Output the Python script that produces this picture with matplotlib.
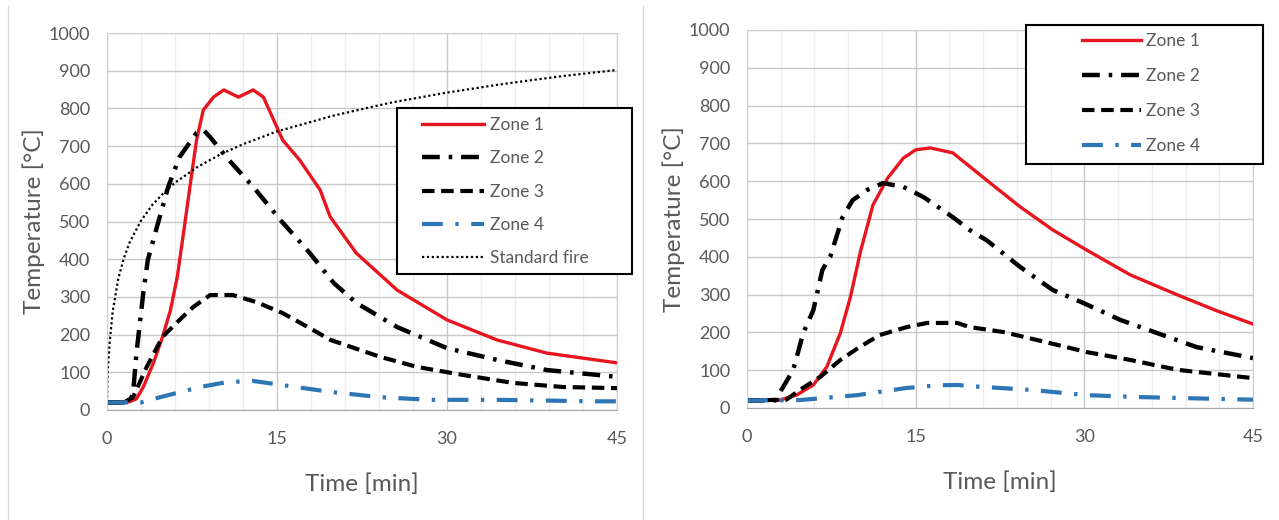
import matplotlib.pyplot as plt
from matplotlib.lines import Line2D
from matplotlib.patches import Rectangle
import numpy as np

plt.rcParams['font.family'] = ['Lato', 'DejaVu Sans']

# ---- left chart data (time in min, temperature in degC)
tL_z1 = [0, 1, 2, 2.6, 3.2, 4.1, 4.9, 5.6, 6.2, 6.8, 7.4, 7.9, 8.5, 9.4, 10.3, 11.6, 12.9, 13.8,
         15.5, 17.0, 18.8, 19.7, 22.0, 25.6, 30.0, 34.4, 38.8, 45.0]
zL_z1 = [20, 20, 22, 30, 61, 125, 194, 265, 353, 480, 610, 716, 796, 830, 849, 830, 849, 830,
         716, 663, 584, 512, 416, 318, 239, 186, 151, 125]

tL_z2 = [0, 2, 2.3, 2.6, 3.2, 3.6, 4.4, 5.4, 6.4, 7.9, 8.5, 9.1, 10.6, 12.9, 15.3, 17.9, 20.0,
         22.0, 25.6, 30.0, 34.4, 38.8, 45.0]
zL_z2 = [20, 20, 45, 151, 310, 398, 485, 592, 671, 735, 743, 724, 668, 592, 504, 416, 337,
         284, 220, 164, 133, 106, 88]

tL_z3 = [0, 1.5, 2.3, 3.5, 4.9, 6.4, 7.6, 9.1, 11.1, 13.2, 15.5, 18.2, 19.7, 24.1, 27.4, 31.4,
         35.8, 40.2, 45.0]
zL_z3 = [20, 20, 34, 114, 194, 239, 273, 305, 305, 286, 257, 212, 186, 141, 114, 93,
         72, 61, 58]

tL_z4 = [0, 3.0, 4.7, 8.2, 10.6, 12.9, 15.5, 19.7, 24.1, 28.5, 34.4, 43.2, 45.0]
zL_z4 = [20, 20, 34, 61, 74, 77, 66, 48, 34, 27, 27, 23, 23]

t_std = [0, 0.05, 0.25, 0.5, 1, 1.5, 2, 3, 4, 5, 6, 8, 10, 12, 15, 20, 25, 30, 35, 40, 45]
z_std = [20, 100, 184, 261, 349, 404, 445, 502, 544, 576, 603, 645, 678, 705, 739, 781, 815,
         842, 865, 885, 902]

# ---- right chart data
tR_z1 = [0, 2.9, 4.4, 5.9, 7.1, 8.3, 9.2, 10.1, 11.2, 12.5, 13.9, 15.0, 16.3, 18.3, 21.3, 24.3,
         27.2, 30.2, 34.1, 38.3, 41.8, 45]
zR_z1 = [20, 21, 34, 61, 109, 198, 294, 415, 537, 608, 661, 683, 688, 675, 603, 532,
         471, 418, 352, 299, 257, 222]

tR_z2 = [0, 2.5, 2.9, 4.1, 5.0, 5.9, 6.7, 7.4, 8.5, 9.4, 10.7, 12.1, 13.9, 15.7, 18.3, 19.8,
         21.3, 24.3, 27.2, 29.9, 33.2, 36.5, 40, 45]
zR_z2 = [20, 20, 40, 100, 198, 259, 365, 400, 505, 550, 577, 595, 585, 558, 505, 471,
         444, 373, 312, 278, 233, 198, 161, 132]

tR_z3 = [0, 3.5, 4.7, 6.5, 8.3, 10, 11.8, 14.2, 16, 18.7, 19.8, 22.8, 26.9, 30.2, 34.1, 38.3, 45]
zR_z3 = [20, 22, 48, 82, 127, 161, 193, 214, 225, 225, 214, 201, 172, 148, 127, 101, 79]

tR_z4 = [0, 4.7, 9.8, 14.2, 17, 18.7, 19.8, 25.2, 30.2, 34.7, 45]
zR_z4 = [20, 21, 34, 53, 60, 61, 58, 48, 34, 29, 22]

x_ticks = [0, 15, 30, 45]
y_ticks = list(range(0, 1001, 100))

red = '#e8141e'
blue = '#2e75b6'
txt = '#595959'

W, H = 1279, 520
fig = plt.figure(figsize=(W / 100, H / 100), dpi=100)


def setup(ax):
    ax.set_xlim(0, 45)
    ax.set_ylim(0, 1000)
    ax.set_xticks(x_ticks)
    ax.set_yticks(y_ticks)
    ax.set_xticks(np.arange(0, 46, 3), minor=True)
    ax.grid(True, which='major', color='#c8c8c8', lw=1)
    ax.grid(True, which='minor', axis='x', color='#ececec', lw=1)
    ax.set_axisbelow(True)
    for s in ax.spines.values():
        s.set_color('#d0d0d0')
    ax.spines['bottom'].set_color('#a6a6a6')
    ax.tick_params(which='both', length=0, labelsize=13, labelcolor=txt)
    ax.tick_params(axis='x', pad=15)
    ax.tick_params(axis='y', pad=12)
    ax.set_xlabel('Time [min]', fontsize=17.5, color=txt, labelpad=19)
    ax.set_ylabel('Temperature [°C]', fontsize=17.5, color=txt, labelpad=3)


def draw(ax, data):
    (t1, z1), (t2, z2), (t3, z3), (t4, z4) = data
    ax.plot(t1, z1, color=red, lw=2.4, label='Zone 1')
    ax.plot(t2, z2, color='black', lw=3.2, dashes=(4, 2, 0.8, 2), label='Zone 2')
    ax.plot(t3, z3, color='black', lw=3.0, dashes=(3, 1.6), label='Zone 3')
    ax.plot(t4, z4, color=blue, lw=3.0, dashes=(5, 3, 0.8, 3), label='Zone 4')


axL = fig.add_axes([107 / W, 1 - 410 / H, 510 / W, 377 / H])
setup(axL)
draw(axL, [(tL_z1, zL_z1), (tL_z2, zL_z2), (tL_z3, zL_z3), (tL_z4, zL_z4)])
axL.plot(t_std, z_std, color='black', lw=1.6, dashes=(1, 1.2), label='Standard fire')

axR = fig.add_axes([747 / W, 1 - 408 / H, 506 / W, 378 / H])
setup(axR)
draw(axR, [(tR_z1, zR_z1), (tR_z2, zR_z2), (tR_z3, zR_z3), (tR_z4, zR_z4)])


def legend(ax, box, hx, hl, top, sp):
    # box = frame in pixels (x0, y0, x1, y1); hx = handle start x; top = first row top y
    x0, y0, x1, y1 = box
    fig.add_artist(Rectangle((x0 / W, 1 - y1 / H), (x1 - x0) / W, (y1 - y0) / H,
                             transform=fig.transFigure, facecolor='white',
                             edgecolor='black', lw=1.5, zorder=4))
    h, l = ax.get_legend_handles_labels()
    leg = fig.legend(h, l, loc='upper left', bbox_to_anchor=(hx / W, 1 - top / H),
                     fontsize=12.5, handlelength=hl, handletextpad=0.3,
                     labelspacing=sp, borderpad=0, frameon=False, borderaxespad=0)
    leg.set_zorder(5)
    for t in leg.get_texts():
        t.set_color(txt)
    return leg


legend(axL, (397, 108, 632, 274), 422, 3.6, 117, 1.0)
legend(axR, (1026, 25, 1263, 164), 1082, 3.4, 33, 1.1)

# chart borders
for x in (8, 643):
    fig.add_artist(Line2D([x / W, x / W], [0, 1 - 6 / H], color='#d9d9d9', lw=1))

fig.savefig('out.png', dpi=100)
